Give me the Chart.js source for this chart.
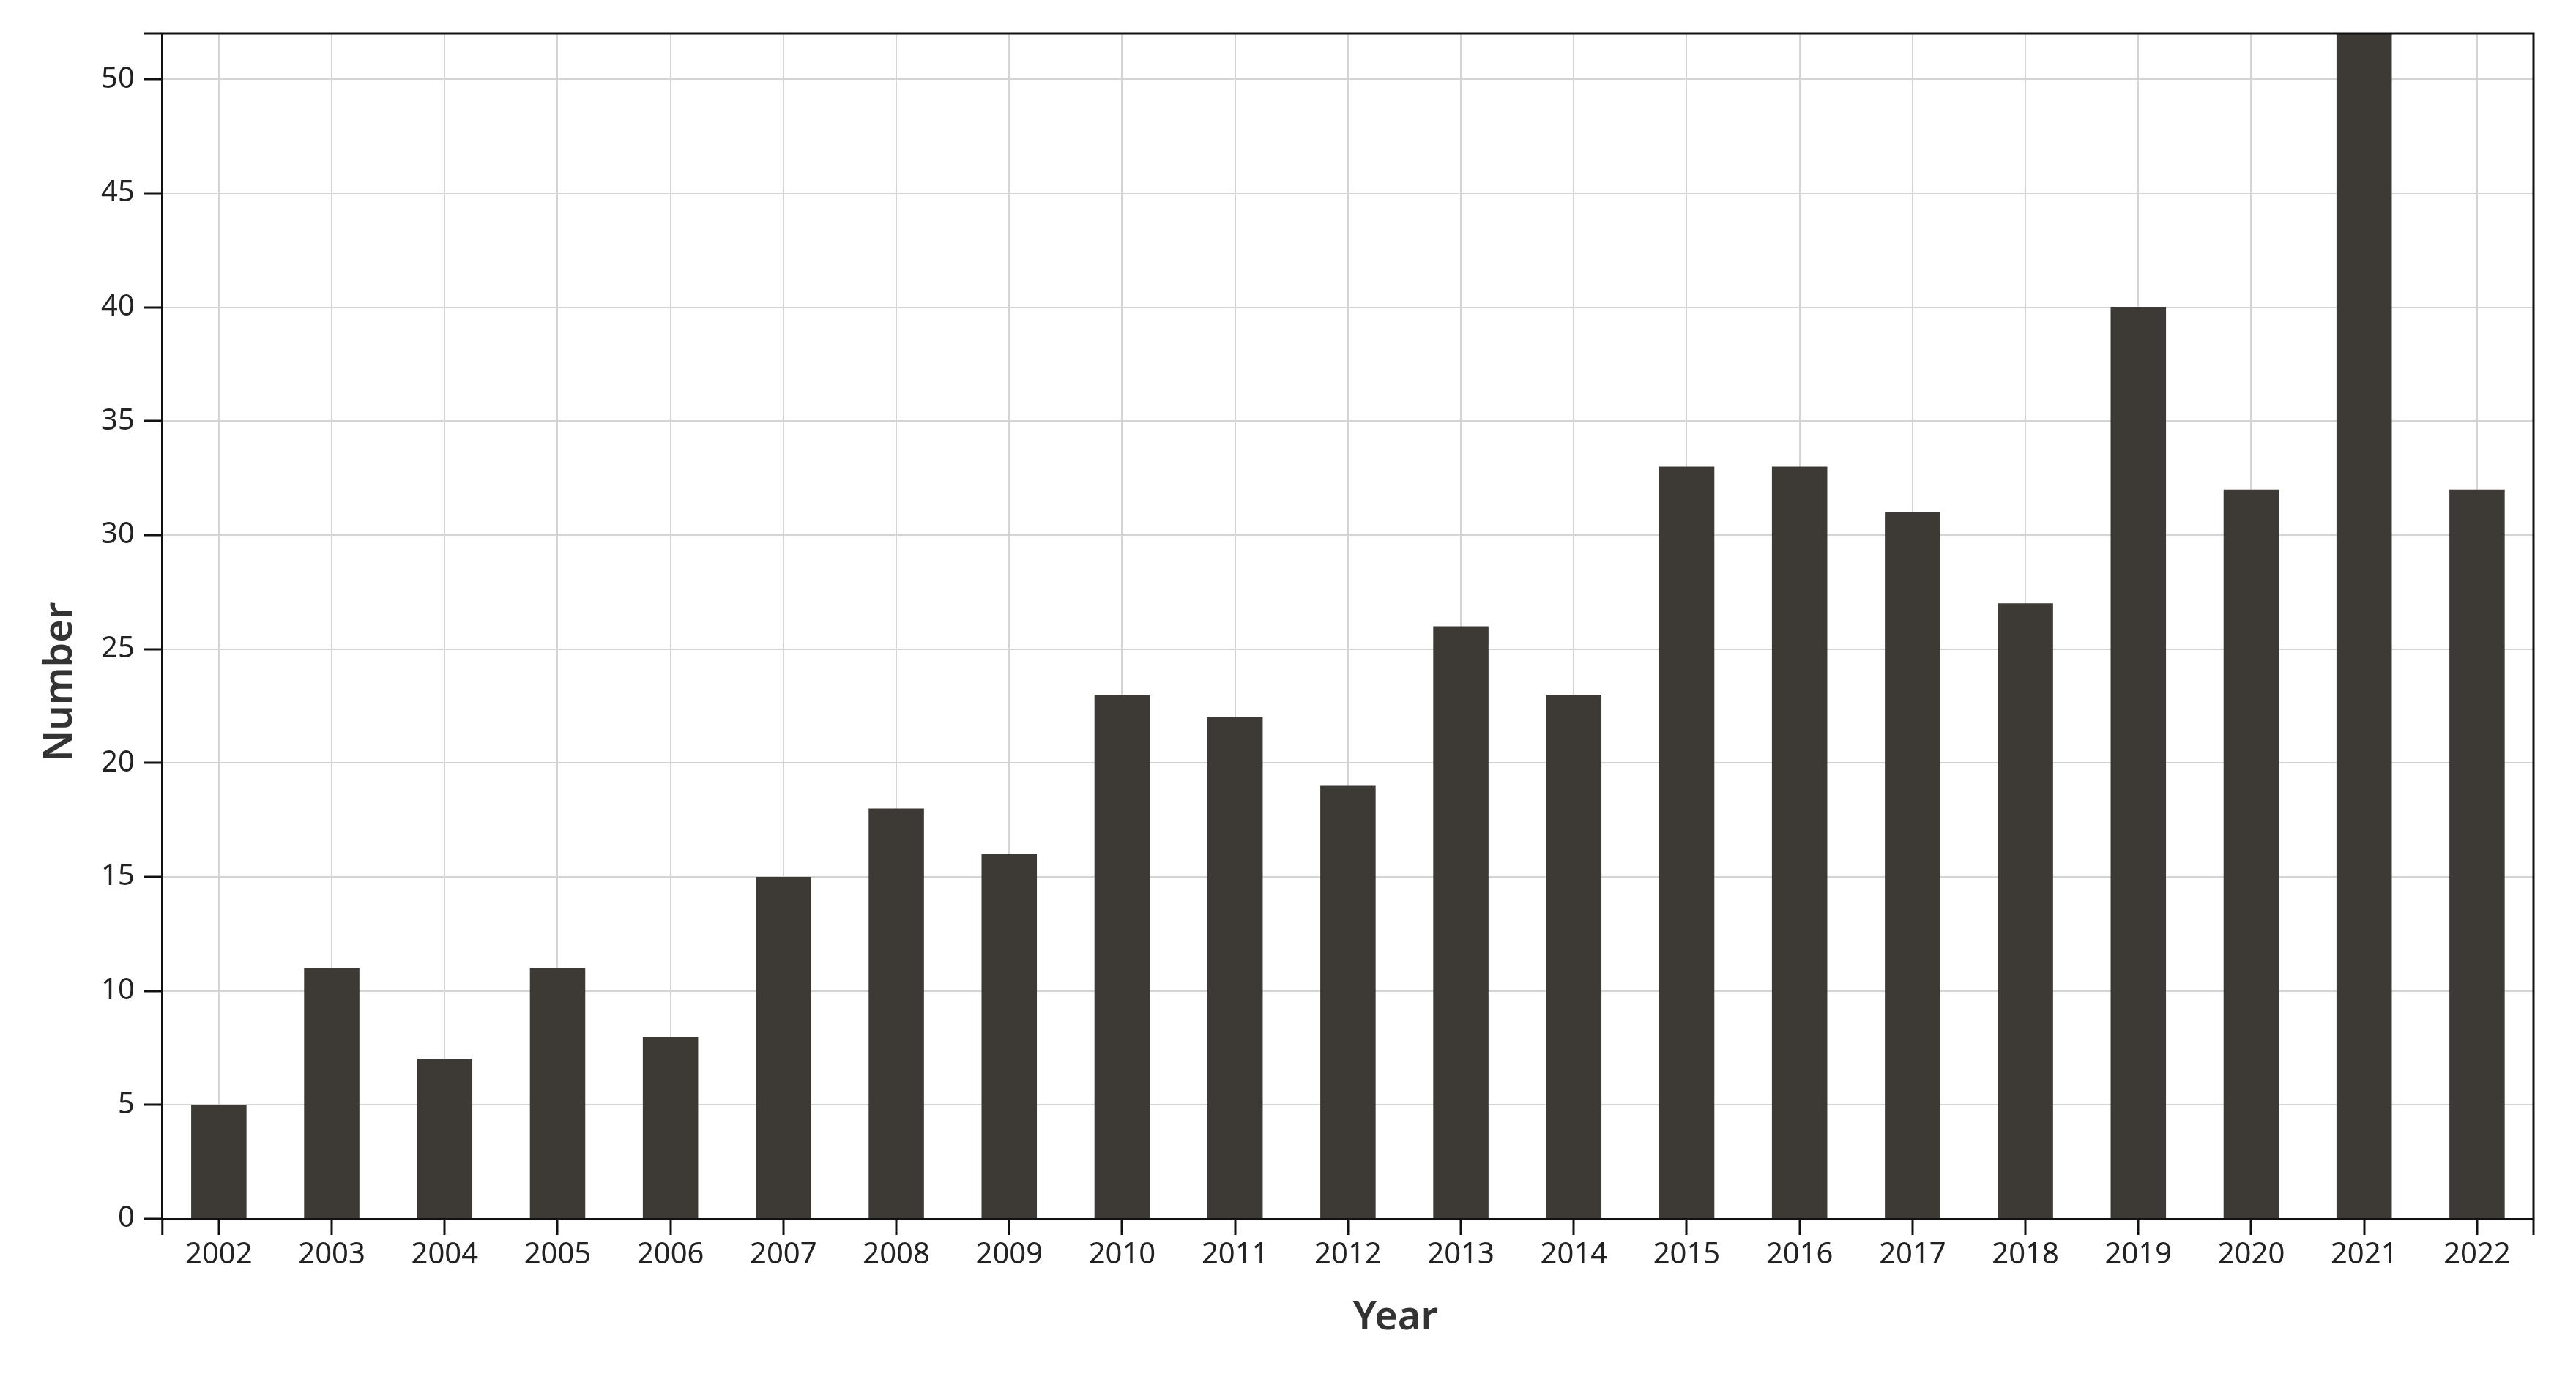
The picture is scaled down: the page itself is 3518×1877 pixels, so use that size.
<!DOCTYPE html>
<html>
<head>
<meta charset="utf-8">
<script src="https://cdn.jsdelivr.net/npm/chart.js@4"></script>
<style>
  html, body { margin: 0; padding: 0; background: #fff; }
  #wrap { width: 3518px; height: 1877px; }
</style>
</head>
<body>
<div id="wrap"><canvas id="year-chart"></canvas></div>
<script>
const years = ['2002', '2003', '2004', '2005', '2006', '2007', '2008', '2009', '2010', '2011',
               '2012', '2013', '2014', '2015', '2016', '2017', '2018', '2019', '2020', '2021', '2022'];
const counts = [5, 11, 7, 11, 8, 15, 18, 16, 23, 22, 19, 26, 23, 33, 33, 31, 27, 40, 32, 52, 32];
const yTicks = [0, 5, 10, 15, 20, 25, 30, 35, 40, 45, 50];

const titleFont = "600 54px 'Noto Sans', sans-serif";

// top + right frame lines, corner overhangs, and the two axis titles
// (titles sit a bit off-centre in the original, so they're placed by hand)
const framePlugin = {
    id: 'frame',
    afterDraw(chart) {
        const { ctx, chartArea: a } = chart;
        ctx.save();
        ctx.strokeStyle = '#111';
        ctx.lineWidth = 3;
        ctx.beginPath();
        ctx.moveTo(a.left - 25, a.top);
        ctx.lineTo(a.right, a.top);
        ctx.lineTo(a.right, a.bottom + 22);
        ctx.moveTo(a.left, a.bottom);
        ctx.lineTo(a.left, a.bottom + 22);
        ctx.stroke();

        ctx.fillStyle = '#333';
        ctx.font = titleFont;
        ctx.textAlign = 'center';
        ctx.textBaseline = 'middle';
        ctx.fillText('Year', a.left + (a.right - a.left) * 0.52, a.bottom + 136);

        ctx.translate(a.left - 139, a.top + (a.bottom - a.top) * 0.547);
        ctx.rotate(-Math.PI / 2);
        ctx.fillText('Number', 0, 0);
        ctx.restore();
    }
};

const tickFont = { family: "'Noto Sans', sans-serif", size: 40 };

new Chart(document.getElementById('year-chart'), {
    type: 'bar',
    data: {
        labels: years,
        datasets: [{
            data: counts,
            backgroundColor: '#3d3a36',
            borderWidth: 0,
            barPercentage: 0.98,
            categoryPercentage: 0.5
        }]
    },
    options: {
        responsive: true,
        maintainAspectRatio: false,
        animation: false,
        layout: { padding: { left: 125, right: 58, top: 46, bottom: 134 } },
        scales: {
            x: {
                offset: true,
                grid: {
                    offset: false,
                    color: '#d4d4d4',
                    lineWidth: 2,
                    tickColor: '#111',
                    tickWidth: 3,
                    tickLength: 22
                },
                border: { color: '#111', width: 3 },
                ticks: { color: '#222', font: tickFont, padding: 4, maxRotation: 0, autoSkip: false }
            },
            y: {
                min: 0,
                max: 52,
                afterBuildTicks: (scale) => {
                    scale.ticks = yTicks.map((v) => ({ value: v }));
                },
                grid: {
                    color: '#d4d4d4',
                    lineWidth: 2,
                    tickColor: '#111',
                    tickWidth: 3,
                    tickLength: 25
                },
                border: { color: '#111', width: 3 },
                ticks: { color: '#222', font: tickFont, padding: 13 }
            }
        },
        plugins: {
            legend: { display: false },
            title: { display: false },
            tooltip: { enabled: false }
        }
    },
    plugins: [framePlugin]
});
</script>
</body>
</html>
